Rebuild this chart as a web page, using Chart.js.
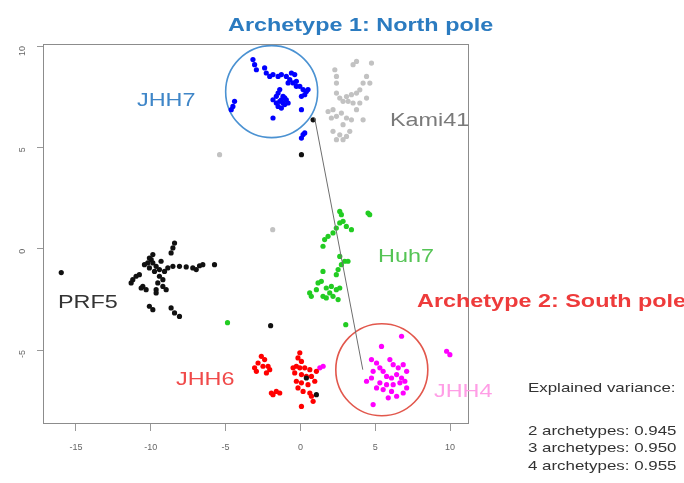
<!DOCTYPE html>
<html>
<head>
<meta charset="utf-8">
<script src="https://cdn.jsdelivr.net/npm/chart.js@4.4.1/dist/chart.umd.min.js"></script>
<style>
  body { margin: 0; background: #fff; }
  #wrap { width: 684px; height: 483px; }
  canvas { filter: blur(0.45px); }
</style>
</head>
<body>
<div id="wrap"><canvas id="chart" width="684" height="483"></canvas></div>
<script>
// tick values
var xTicks = [-15, -10, -5, 0, 5, 10];
var yTicks = [-5, 0, 5, 10];

// cell line clusters
var jhh7 = [
  [-3.17, 9.33], [-3.06, 9.08], [-2.94, 8.83], [-2.39, 8.92], [-2.28, 8.67], [-2.05, 8.50],
  [-1.83, 8.59], [-1.49, 8.50], [-1.27, 8.59], [-0.94, 8.50], [-0.71, 8.34], [-0.60, 8.67],
  [-0.38, 8.59], [-0.82, 8.18], [-0.49, 8.18], [-0.27, 8.26], [-0.04, 8.01], [0.18, 7.85],
  [0.40, 7.76], [0.51, 7.85], [0.29, 7.60], [0.07, 7.52], [-1.83, 7.35], [-1.61, 7.52],
  [-1.49, 7.68], [-1.38, 7.85], [-1.27, 7.35], [-1.16, 7.19], [-1.05, 7.11], [-0.94, 7.35],
  [-1.49, 7.02], [-1.27, 6.94], [-1.16, 7.52], [0.07, 6.86], [-1.83, 6.45], [-4.40, 7.27],
  [-4.51, 7.02], [-4.62, 6.86], [0.18, 5.63], [0.07, 5.46], [0.29, 5.71], [-1.38, 7.27],
  [-1.05, 7.44], [-1.61, 7.19], [-0.82, 7.19], [-0.27, 8.01]
];
var kami41 = [
  [3.75, 9.24], [4.75, 9.16], [3.52, 9.08], [2.30, 8.83], [2.41, 8.50], [4.42, 8.50],
  [4.19, 8.17], [3.97, 7.84], [3.75, 7.68], [3.41, 7.60], [3.08, 7.51], [2.63, 7.43],
  [2.85, 7.27], [3.19, 7.27], [3.52, 7.19], [3.97, 7.19], [2.41, 7.68], [2.18, 6.86],
  [1.85, 6.77], [2.07, 6.45], [2.41, 6.53], [2.74, 6.69], [3.08, 6.45], [3.41, 6.36],
  [4.19, 6.36], [2.85, 6.12], [2.18, 5.79], [2.63, 5.62], [3.08, 5.54], [3.30, 5.79],
  [2.41, 5.38], [2.85, 5.38], [3.75, 6.86], [4.42, 7.43], [4.64, 8.17], [2.41, 8.17],
  [-5.40, 4.64], [-1.85, 0.94]
];
var prf5 = [
  [-15.98, -1.18], [-8.41, 0.28], [-8.52, 0.04], [-8.64, -0.21], [-9.86, -0.29], [-9.97, -0.54],
  [-10.20, -0.70], [-10.42, -0.79], [-9.86, -0.70], [-9.64, -0.87], [-10.09, -0.95], [-9.75, -1.12],
  [-9.42, -1.03], [-9.42, -1.36], [-9.19, -1.53], [-9.53, -1.69], [-9.19, -1.86], [-9.64, -2.02],
  [-9.64, -2.18], [-11.20, -1.53], [-10.98, -1.36], [-11.31, -1.69], [-10.76, -1.28], [-10.53, -1.86],
  [-10.31, -2.02], [-10.64, -1.94], [-8.97, -2.02], [-8.52, -0.87], [-8.08, -0.87], [-7.63, -0.90],
  [-7.19, -0.95], [-6.96, -1.03], [-6.74, -0.84], [-6.52, -0.79], [-5.74, -0.79], [-10.09, -2.84],
  [-9.86, -3.01], [-8.64, -2.92], [-8.41, -3.17], [-8.08, -3.34], [-8.86, -0.95], [-9.08, -1.12],
  [-10.09, -0.46], [-9.31, -0.62], [0.85, 6.36], [0.07, 4.64], [-1.99, -3.80], [0.40, -6.38],
  [1.07, -7.20]
];
var huh7 = [
  [2.63, 1.84], [2.74, 1.68], [2.63, 1.27], [2.85, 1.35], [3.07, 1.10], [3.41, 0.94],
  [2.40, 1.02], [2.18, 0.78], [1.85, 0.61], [1.62, 0.45], [1.51, 0.12], [4.52, 1.76],
  [4.63, 1.68], [2.63, -0.38], [2.96, -0.62], [3.18, -0.62], [2.74, -0.79], [2.52, -1.03],
  [2.40, -1.28], [1.51, -1.12], [1.40, -1.61], [1.18, -1.69], [1.73, -1.94], [2.07, -1.86],
  [2.40, -2.02], [2.63, -1.94], [1.96, -2.18], [1.51, -2.35], [1.73, -2.43], [2.18, -2.35],
  [2.52, -2.51], [0.62, -2.18], [0.73, -2.35], [1.07, -2.02], [-4.87, -3.65], [3.03, -3.75]
];
var jhh6 = [
  [-2.61, -5.31], [-2.39, -5.47], [-2.83, -5.64], [-3.06, -5.88], [-2.94, -6.05], [-2.50, -5.80],
  [-2.16, -5.80], [-2.05, -5.97], [-2.27, -6.13], [-1.94, -7.12], [-1.83, -7.20], [-1.61, -7.04],
  [-1.38, -7.12], [-0.04, -5.14], [-0.16, -5.39], [0.07, -5.56], [-0.27, -5.80], [-0.49, -5.88],
  [-0.04, -5.88], [0.29, -5.88], [0.63, -5.97], [-0.38, -6.13], [0.07, -6.21], [0.40, -6.30],
  [0.74, -6.30], [-0.27, -6.54], [0.07, -6.62], [0.51, -6.71], [-0.16, -6.87], [0.18, -7.04],
  [0.63, -7.12], [0.74, -7.28], [0.85, -7.53], [0.07, -7.78], [0.96, -6.54], [1.07, -6.05]
];
var jhh4 = [
  [1.52, -5.80], [1.30, -5.88], [4.75, -5.47], [5.09, -5.64], [5.31, -5.88], [4.86, -6.05],
  [5.53, -6.05], [5.98, -5.47], [6.20, -5.72], [6.54, -5.88], [6.87, -5.72], [7.10, -6.05],
  [5.76, -6.30], [6.09, -6.38], [6.43, -6.21], [6.76, -6.38], [4.75, -6.38], [4.42, -6.54],
  [5.31, -6.62], [5.76, -6.71], [6.20, -6.71], [6.65, -6.62], [5.53, -6.95], [6.09, -7.04],
  [6.87, -7.12], [7.10, -6.87], [6.43, -7.28], [5.87, -7.36], [4.86, -7.69], [5.42, -4.82],
  [6.76, -4.32], [9.77, -5.06], [9.99, -5.23], [6.98, -6.54], [5.09, -6.87]
];

// line between the two archetypes, and circle centres
var archetypeLine = [[0.95, 6.46], [4.17, -5.97]];
var northCircle = [[-1.92, 7.75]];
var southCircle = [[5.44, -5.97]];

var varianceLines = ["2 archetypes: 0.945", "3 archetypes: 0.950", "4 archetypes: 0.955"];

function pts(arr) {
  return arr.map(function (p) { return { x: p[0], y: p[1] }; });
}

function cluster(data, color) {
  return {
    data: pts(data),
    backgroundColor: color,
    borderWidth: 0,
    pointRadius: 2.6,
    pointHoverRadius: 2.6
  };
}

function stretchText(ctx, txt, x, y, font, color) {
  ctx.save();
  ctx.font = font;
  ctx.fillStyle = color;
  ctx.textBaseline = "middle";
  ctx.translate(x, y);
  ctx.scale(1.3, 1);
  ctx.fillText(txt, 0, 0);
  ctx.restore();
}

var labelsPlugin = {
  id: "labels",
  beforeDatasetsDraw: function (chart) {
    var a = chart.chartArea, ctx = chart.ctx;
    ctx.save();
    ctx.strokeStyle = "#8c8c8c";
    ctx.lineWidth = 1;
    ctx.strokeRect(a.left + 0.5, a.top + 0.5, a.right - a.left, a.bottom - a.top);
    ctx.restore();
  },
  afterDraw: function (chart) {
    var ctx = chart.ctx;
    var f = "Liberation Sans, Arial, sans-serif";
    stretchText(ctx, "Archetype 1: North pole", 228, 26, "bold 18px " + f, "#2b7bc0");
    stretchText(ctx, "JHH7", 137, 101, "18px " + f, "#3f86c8");
    stretchText(ctx, "Kami41", 390, 121, "18px " + f, "#7a7a7a");
    stretchText(ctx, "Huh7", 378, 257, "18px " + f, "#55c455");
    stretchText(ctx, "PRF5", 58, 303, "18px " + f, "#333333");
    stretchText(ctx, "Archetype 2: South pole", 417, 302, "bold 18px " + f, "#ee3b3b");
    stretchText(ctx, "JHH6", 176, 380, "18px " + f, "#f04a4a");
    stretchText(ctx, "JHH4", 434, 392, "18px " + f, "#ff9ee6");
    stretchText(ctx, "Explained variance:", 528, 388, "13px " + f, "#333333");
    varianceLines.forEach(function (t, i) {
      stretchText(ctx, t, 528, 431 + i * 17.5, "13px " + f, "#333333");
    });
  }
};

var ctx = document.getElementById("chart");
new Chart(ctx, {
  type: "scatter",
  data: {
    datasets: [
      {
        type: "line",
        data: pts(archetypeLine),
        borderColor: "#6e6e6e",
        borderWidth: 1,
        pointRadius: 0,
        fill: false
      },
      cluster(kami41, "#c2c2c2"),
      cluster(prf5, "#111111"),
      cluster(huh7, "#22cc22"),
      cluster(jhh6, "#ff0000"),
      cluster(jhh4, "#ff00ff"),
      cluster(jhh7, "#0000ff"),
      {
        data: pts(northCircle),
        backgroundColor: "rgba(0,0,0,0)",
        borderColor: "#4b92d2",
        borderWidth: 1.6,
        pointRadius: 46
      },
      {
        data: pts(southCircle),
        backgroundColor: "rgba(0,0,0,0)",
        borderColor: "#e2574c",
        borderWidth: 1.6,
        pointRadius: 46
      }
    ]
  },
  options: {
    responsive: false,
    animation: false,
    events: [],
    layout: { autoPadding: false, padding: { top: 44, right: 216, left: 0, bottom: 0 } },
    plugins: { legend: { display: false }, tooltip: { enabled: false } },
    scales: {
      x: {
        type: "linear",
        min: -17.2,
        max: 11.2,
        border: { display: false },
        grid: { drawOnChartArea: false, drawTicks: true, tickLength: 8, color: "#999" },
        ticks: { color: "#666", font: { size: 9, family: "Liberation Sans, Arial" }, padding: 11 },
        afterBuildTicks: function (s) { s.ticks = xTicks.map(function (v) { return { value: v }; }); },
        afterFit: function (s) { s.height = 60; }
      },
      y: {
        type: "linear",
        min: -8.6,
        max: 10.1,
        border: { display: false },
        grid: { drawOnChartArea: false, drawTicks: true, tickLength: 6, color: "#999" },
        ticks: { color: "#666", font: { size: 9, family: "Liberation Sans, Arial" }, padding: 14, minRotation: 90, maxRotation: 90 },
        afterBuildTicks: function (s) { s.ticks = yTicks.map(function (v) { return { value: v }; }); },
        afterFit: function (s) { s.width = 43; }
      }
    }
  },
  plugins: [labelsPlugin]
});
</script>
</body>
</html>
